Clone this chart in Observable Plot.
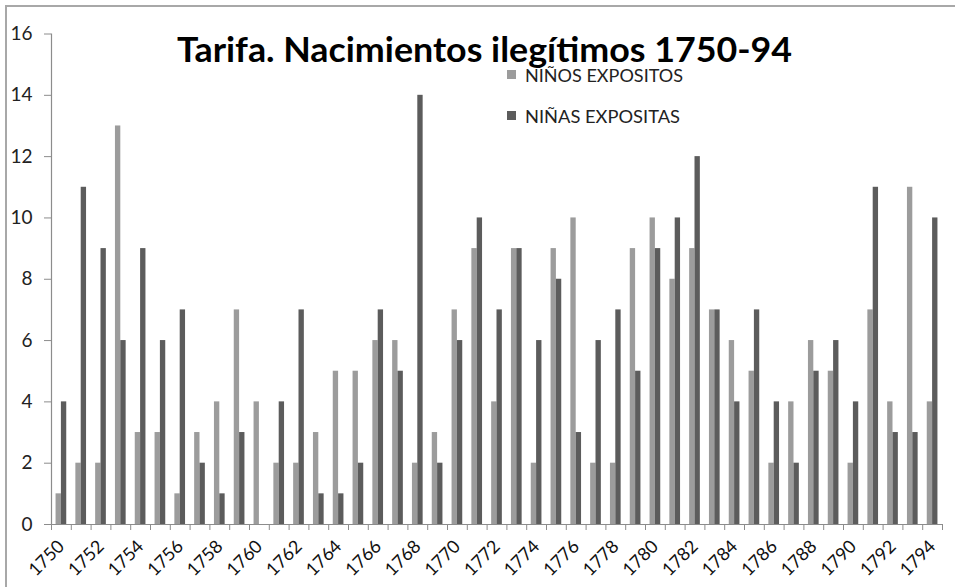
<!DOCTYPE html>
<html>
<head>
<meta charset="utf-8">
<script src="https://cdn.jsdelivr.net/npm/d3@7"></script>
<script src="https://cdn.jsdelivr.net/npm/@observablehq/plot@0.6"></script>
<style>
  html, body { margin: 0; padding: 0; background: #fff; }
  #wrap { position: relative; width: 955px; height: 587px; overflow: hidden; }
  #frame { position: absolute; left: 5px; top: 5px; width: 1000px; height: 1000px;
           border-left: 2px solid #a8a8a8; border-top: 2px solid #a8a8a8; pointer-events: none; }
  #overlay { position: absolute; left: 0; top: 0; }
</style>
</head>
<body>
<div id="wrap">
  <div id="chart"></div>
  <div id="frame"></div>
  <svg id="overlay" width="955" height="587"></svg>
</div>
<script>
const title = "Tarifa. Nacimientos ilegítimos 1750-94";
const seriesNames = ["NIÑOS EXPOSITOS", "NIÑAS EXPOSITAS"];
const years = d3.range(1750, 1795);
const ninos = [1, 2, 2, 13, 3, 3, 1, 3, 4, 7, 4, 2, 2, 3, 5, 5, 6, 6, 2, 3, 7, 9, 4, 9, 2, 9, 10, 2, 2, 9, 10, 8, 9, 7, 6, 5, 2, 4, 6, 5, 2, 7, 4, 11, 4];
const ninas = [4, 11, 9, 6, 9, 6, 7, 2, 1, 3, 0, 4, 7, 1, 1, 2, 7, 5, 14, 2, 6, 10, 7, 9, 6, 8, 3, 6, 7, 5, 9, 10, 12, 7, 4, 7, 4, 2, 5, 6, 4, 11, 3, 3, 10];
const yTicks = d3.range(0, 17, 2);
const xLabels = years.filter(y => y % 2 === 0);

const colors = ["#9c9c9c", "#5c5c5c"];
const axisGray = "#8c8c8c";

const table = years.map((year, i) => ({year, ninos: ninos[i], ninas: ninas[i]}));

const W = 955, H = 587;
const mL = 51, mR = 13, mT = 33.5, mB = 63;
const padInner = 0.46;
const step = (W - mL - mR) / years.length;
const bw = step * (1 - padInner);

const chart = Plot.plot({
  width: W, height: H,
  marginLeft: mL, marginRight: mR, marginTop: mT, marginBottom: mB,
  style: {fontFamily: "Lato, sans-serif", background: "transparent"},
  x: {type: "band", domain: years, paddingInner: padInner, paddingOuter: padInner / 2, axis: null},
  y: {domain: [0, 16], axis: null},
  marks: [
    Plot.barY(table, {x: "year", y: "ninos", fill: colors[0], insetRight: bw / 2}),
    Plot.barY(table, {x: "year", y: "ninas", fill: colors[1], insetLeft: bw / 2}),
    Plot.ruleY([0], {stroke: axisGray, strokeWidth: 1.2}),
    Plot.ruleX([years[0]], {y1: 0, y2: 16, stroke: axisGray, strokeWidth: 1.2, dx: -step / 2}),
    Plot.axisY({ticks: yTicks, tickSize: 7, tickPadding: 12, stroke: axisGray, fill: "#222", fontSize: 19, label: null}),
    Plot.axisX({ticks: years, tickSize: 6, tickFormat: () => "", stroke: axisGray, dx: -step / 2, label: null}),
    Plot.axisX({ticks: [years[years.length - 1]], tickSize: 6, tickFormat: () => "", stroke: axisGray, dx: step / 2, label: null}),
    Plot.axisX({ticks: xLabels, tickSize: 0, tickPadding: 19, tickRotate: -45, fontSize: 18, fill: "#111",
                tickFormat: d => String(d), label: null})
  ]
});
document.getElementById("chart").appendChild(chart);

const ov = d3.select("#overlay");
ov.append("text").attr("x", 177).attr("y", 62)
  .attr("font-family", "Lato, sans-serif").attr("font-weight", 700).attr("font-size", 35)
  .attr("fill", "#000").attr("textLength", 615).attr("lengthAdjust", "spacingAndGlyphs")
  .text(title);
const legY = [70, 111];
seriesNames.forEach((name, i) => {
  ov.append("rect").attr("x", 507).attr("y", legY[i]).attr("width", 9).attr("height", 9).attr("fill", colors[i]);
  ov.append("text").attr("x", 525).attr("y", legY[i] + 11.5)
    .attr("font-family", "Lato, sans-serif").attr("font-size", 18).attr("fill", "#222")
    .attr("textLength", i === 0 ? 158 : 155).attr("lengthAdjust", "spacingAndGlyphs")
    .text(name);
});
</script>
</body>
</html>
